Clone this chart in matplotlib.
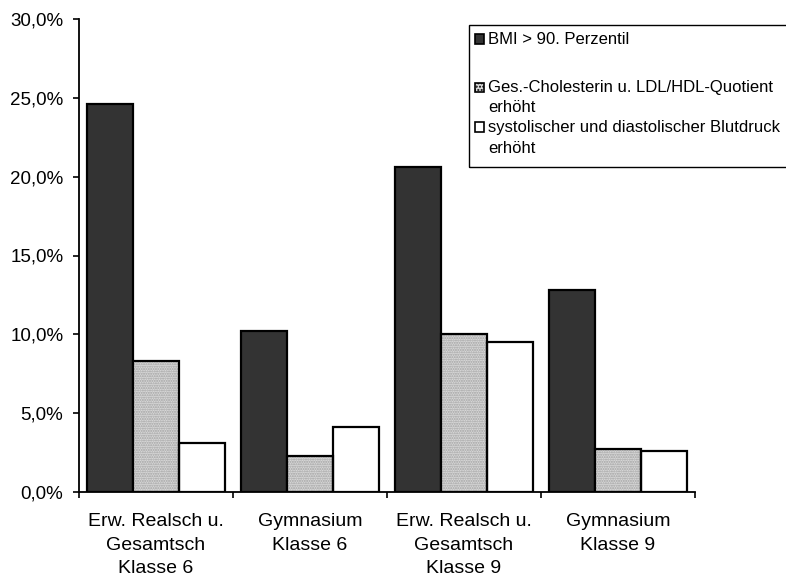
import matplotlib.pyplot as plt
import numpy as np
from matplotlib.patches import Rectangle
from matplotlib.ticker import FuncFormatter, FixedLocator

plt.rcParams['font.family'] = ['Liberation Sans', 'DejaVu Sans']

groups = ["Erw. Realsch u.\nGesamtsch\nKlasse 6", "Gymnasium\nKlasse 6",
          "Erw. Realsch u.\nGesamtsch\nKlasse 9", "Gymnasium\nKlasse 9"]
bmi = [24.6, 10.2, 20.6, 12.8]
chol = [8.3, 2.3, 10.0, 2.7]
blutdruck = [3.1, 4.1, 9.5, 2.6]
series_labels = ["BMI > 90. Perzentil",
                 "Ges.-Cholesterin u. LDL/HDL-Quotient\nerhöht",
                 "systolischer und diastolischer Blutdruck\nerhöht"]

W, H = 786, 579
fig = plt.figure(figsize=(W / 100, H / 100), dpi=100)
ax = fig.add_axes([79 / W, 1 - 492 / H, (695 - 79) / W, (492 - 19) / H])

x = np.arange(len(groups))
bw = 0.3
lw = 1.6
ax.bar(x - bw, bmi, bw, color='#333333', edgecolor='black', linewidth=lw, zorder=2)
# stippled grey fill, outline drawn separately so the hatch stays light
ax.bar(x, chol, bw, color='#d9d9d9', edgecolor='#a0a0a0', hatch='.......', linewidth=0, zorder=2)
ax.bar(x, chol, bw, fill=False, edgecolor='black', linewidth=lw, zorder=3)
ax.bar(x + bw, blutdruck, bw, color='white', edgecolor='black', linewidth=lw, zorder=2)

ax.set_xlim(-0.5, len(groups) - 0.5)
ax.set_ylim(0, 30)
ax.set_yticks(np.arange(0, 30.1, 5))
ax.yaxis.set_major_formatter(FuncFormatter(lambda v, p: f"{v:.1f}%".replace('.', ',')))

ax.set_xticks(x)
ax.set_xticklabels(groups, fontsize=14, linespacing=1.52)
ax.xaxis.set_minor_locator(FixedLocator(np.arange(-0.5, len(groups), 1.0)))
ax.tick_params(axis='x', which='major', length=0, pad=15)
ax.tick_params(axis='x', which='minor', length=4.3, width=1.2, direction='out')
ax.tick_params(axis='y', length=4.3, width=1.2, direction='out', labelsize=13.5, pad=7)

for s in ['top', 'right']:
    ax.spines[s].set_visible(False)
for s in ['left', 'bottom']:
    ax.spines[s].set_linewidth(1.3)

# legend box in pixel coordinates
def px(xp, yp):
    return xp / W, 1 - yp / H

bx, by = px(469, 167)
fig.patches.append(Rectangle((bx, by), (800 - 469) / W, (167 - 25) / H,
                             transform=fig.transFigure, fill=False,
                             edgecolor='black', linewidth=1.0))
handles = [dict(fc='#333333', hatch=None), dict(fc='#d9d9d9', hatch='.....'),
           dict(fc='white', hatch=None)]
first_rows = [39, 87, 127]
text_rows = [39, 97.5, 138]
for h, lab, yr, yt in zip(handles, series_labels, first_rows, text_rows):
    hx, hy = px(475, yr + 4.5)
    fig.patches.append(Rectangle((hx, hy), 9 / W, 9 / H, transform=fig.transFigure,
                                 facecolor=h['fc'], hatch=h['hatch'],
                                 edgecolor='black', linewidth=1.2))
    tx, ty = px(488, yt)
    fig.text(tx, ty, lab, fontsize=12, va='center', ha='left', linespacing=1.45)

fig.savefig('out.png', dpi=100)
